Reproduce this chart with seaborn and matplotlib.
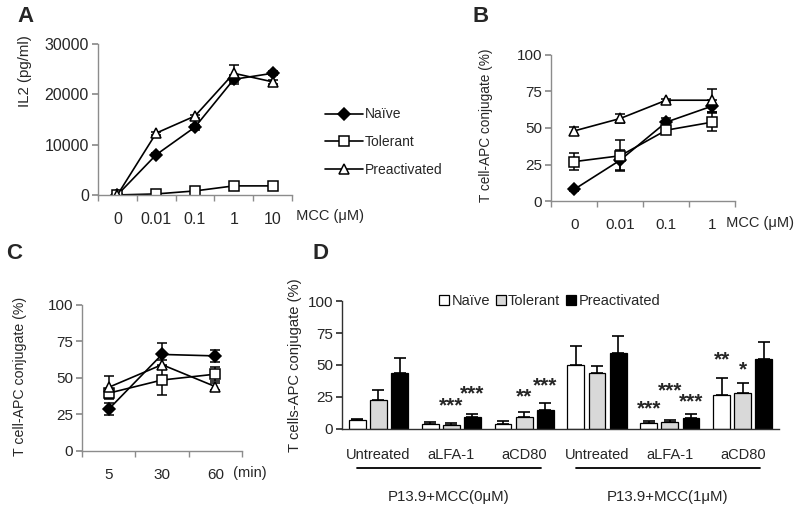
import numpy as np
import pandas as pd
import seaborn as sns
import matplotlib
matplotlib.use('Agg')
import matplotlib.pyplot as plt
import matplotlib.transforms as mtransforms
from matplotlib.patches import Patch

# ---- data ----
groups = ['Naïve', 'Tolerant', 'Preactivated']

# A: IL2 vs MCC dose
a_doses = ['0', '0.01', '0.1', '1', '10']
a_naive = [0, 8000, 13500, 23000, 24200]
a_naive_err = [0, 300, 500, 900, 400]
a_tol = [0, 200, 800, 1800, 1800]
a_tol_err = [0, 0, 0, 0, 0]
a_pre = [0, 12300, 15700, 24200, 22500]
a_pre_err = [0, 300, 300, 1700, 400]

# B: conjugates vs MCC dose
b_doses = ['0', '0.01', '0.1', '1']
b_naive = [8, 28, 54, 65]
b_naive_err = [1, 7, 3, 4]
b_tol = [27, 31, 48.5, 54]
b_tol_err = [6, 10.5, 2, 6]
b_pre = [48, 56.5, 69, 69]
b_pre_err = [3, 3, 1, 8]

# C: conjugates vs time
c_times = ['5', '30', '60']
c_naive = [28.5, 66, 65]
c_naive_err = [4, 8, 4]
c_tol = [39.5, 48.5, 52.5]
c_tol_err = [3, 10.5, 5]
c_pre = [43.5, 59, 44]
c_pre_err = [8, 3, 2.5]

# D: conjugates with blocking antibodies
d_treat = ['Untreated', 'aLFA-1', 'aCD80', 'Untreated', 'aLFA-1', 'aCD80']
d_dose_labels = ['P13.9+MCC(0μM)', 'P13.9+MCC(1μM)']
d_naive = [6.8, 4.2, 4.2, 50, 4.7, 26.6]
d_naive_err = [0.6, 1, 1.8, 15, 1.8, 13]
d_tol = [22.7, 3.4, 9.4, 44, 5.2, 28.4]
d_tol_err = [7.5, 1.5, 4, 5.5, 2, 7.5]
d_pre = [44, 8.9, 14.6, 59.4, 8.3, 55]
d_pre_err = [11.5, 3, 6, 13, 3.4, 13]
# significance stars: (group index, bar index, text, y)
d_stars = [(1, 1, '***', 17.7), (1, 2, '***', 27.6), (2, 1, '**', 25), (2, 2, '***', 34),
           (4, 0, '***', 16), (4, 1, '***', 29.7), (4, 2, '***', 21.4),
           (5, 0, '**', 54), (5, 1, '*', 46.4)]

sns.set_theme(style='ticks')
plt.rcParams['font.family'] = ['Liberation Sans', 'DejaVu Sans']
plt.rcParams['font.size'] = 10

axis_gray = '#8c8c8c'
fig = plt.figure(figsize=(8, 5.13), dpi=100)


def style_axes(ax, ncat, color=axis_gray, tsize=11):
    sns.despine(ax=ax)
    for s in ['left', 'bottom']:
        ax.spines[s].set_color(color)
        ax.spines[s].set_linewidth(1)
    ax.set_xticks(np.arange(ncat + 1) - 0.5, minor=True)
    ax.tick_params(axis='x', which='major', length=0, pad=12, labelsize=tsize)
    ax.tick_params(axis='x', which='minor', length=4, color=color, direction='out')
    ax.tick_params(axis='y', which='major', length=4, color=color, direction='out',
                   labelsize=tsize, pad=2.5)
    ax.set_xlim(-0.5, ncat - 0.5)
    ax.set_xlabel('')


def line_panel(ax, cats, series, errs, ylim, yticks, ylabel, lsize, tsize, lpos):
    rows = []
    for g, vals in zip(groups, series):
        for c, v in zip(cats, vals):
            rows.append({'cat': c, 'val': v, 'group': g})
    df = pd.DataFrame(rows)
    sns.pointplot(data=df, x='cat', y='val', hue='group', hue_order=groups, order=cats,
                  palette=['black'] * 3, markers=['D', 's', '^'], linestyles='-',
                  errorbar=None, legend=False, ax=ax,
                  markersize=7.5, linewidth=1.2, markeredgewidth=1.1)
    lines = list(ax.lines[:3])
    lines[0].set_markersize(6.5)
    for ln in lines[1:]:
        ln.set_markerfacecolor('white')
    x = np.arange(len(cats))
    for ln, vals, e in zip(lines, series, errs):
        ax.errorbar(x, vals, yerr=e, fmt='none', ecolor='black', elinewidth=1.1,
                    capsize=3.5, capthick=1.1, zorder=ln.get_zorder() - 0.1)
    ax.set_ylim(*ylim)
    ax.set_yticks(yticks)
    ax.set_ylabel(ylabel, fontsize=lsize)
    ax.yaxis.set_label_coords(*lpos)
    style_axes(ax, len(cats), tsize=tsize)
    return lines


# ---- A ----
axA = fig.add_axes([0.1225, 0.620, 0.2425, 0.294])
linesA = line_panel(axA, a_doses, [a_naive, a_tol, a_pre], [a_naive_err, a_tol_err, a_pre_err],
                    (0, 30000), [0, 10000, 20000, 30000], 'IL2 (pg/ml)', 10.8, 11.5, (-0.34, 0.82))
axA.text(1.0, -0.09, ' MCC (μM)', transform=axA.transAxes, ha='left', va='top', fontsize=10.5)
fig.legend(handles=linesA, labels=groups, loc='upper left', bbox_to_anchor=(0.39, 0.815),
           frameon=False, handlelength=2.8, handletextpad=0.1, labelspacing=1.0, fontsize=10)

# ---- B ----
axB = fig.add_axes([0.689, 0.608, 0.23, 0.285])
line_panel(axB, b_doses, [b_naive, b_tol, b_pre], [b_naive_err, b_tol_err, b_pre_err],
           (0, 100), [0, 25, 50, 75, 100], 'T cell-APC conjugate (%)', 9.8, 11, (-0.315, 0.52))
axB.text(0.93, -0.1, ' MCC (μM)', transform=axB.transAxes, ha='left', va='top', fontsize=10.5)

# ---- C ----
axC = fig.add_axes([0.1025, 0.121, 0.2, 0.285])
line_panel(axC, c_times, [c_naive, c_tol, c_pre], [c_naive_err, c_tol_err, c_pre_err],
           (0, 100), [0, 25, 50, 75, 100], 'T cell-APC conjugate (%)', 10.2, 11, (-0.344, 0.507))
axC.text(0.92, -0.1, ' (min)', transform=axC.transAxes, ha='left', va='top', fontsize=10.5)

# ---- D ----
axD = fig.add_axes([0.4275, 0.164, 0.5465, 0.249])
rows = []
for g, vals in zip(groups, [d_naive, d_tol, d_pre]):
    for i, v in enumerate(vals):
        rows.append({'cond': i, 'val': v, 'group': g})
dfD = pd.DataFrame(rows)
bar_colors = ['white', '#d9d9d9', 'black']
sns.barplot(data=dfD, x='cond', y='val', hue='group', hue_order=groups, palette=bar_colors,
            errorbar=None, width=0.87, gap=0.2, edgecolor='black', linewidth=0.9,
            legend=False, ax=axD)
bars = axD.patches
nC = len(d_treat)
bar_x = {}
for k, (vals, e) in enumerate(zip([d_naive, d_tol, d_pre], [d_naive_err, d_tol_err, d_pre_err])):
    ps = bars[k * nC:(k + 1) * nC]
    xs = [p.get_x() + p.get_width() / 2 for p in ps]
    for i, xx in enumerate(xs):
        bar_x[(i, k)] = xx
    axD.errorbar(xs, vals, yerr=[np.zeros(nC), e], fmt='none', ecolor='black',
                 elinewidth=1.2, capsize=4, capthick=1.2, zorder=1)
for gi, bi, txt, yv in d_stars:
    axD.text(bar_x[(gi, bi)], yv, txt, ha='center', va='center', fontsize=15, fontweight='bold')
axD.set_ylim(0, 100)
axD.set_yticks([0, 25, 50, 75, 100])
axD.set_ylabel('T cells-APC conjugate (%)', fontsize=10.6)
style_axes(axD, nC, color='#303030', tsize=11)
axD.tick_params(axis='x', which='minor', length=0)
axD.tick_params(axis='x', which='major', pad=14, labelsize=10.5)
axD.set_xticks(range(nC))
axD.set_xticklabels(d_treat)
trans = mtransforms.blended_transform_factory(axD.transData, axD.transAxes)
for j, lab in enumerate(d_dose_labels):
    x0, x1 = 3 * j - 0.29, 3 * j + 2.23
    axD.plot([x0, x1], [-0.31, -0.31], color='black', lw=1.3, transform=trans, clip_on=False)
    axD.text((x0 + x1) / 2, -0.53, lab, transform=trans, ha='center', va='center', fontsize=10.8)
handlesD = [Patch(facecolor=c, edgecolor='black', linewidth=0.9) for c in bar_colors]
axD.legend(handles=handlesD, labels=groups, loc='upper center', bbox_to_anchor=(0.475, 1.16),
           ncol=3, frameon=False, handlelength=0.7, handleheight=0.7, handletextpad=0.15,
           columnspacing=0.4, fontsize=10.5)

# panel letters
for lab, (x, y) in zip('ABCD', [(0.022, 0.968), (0.59, 0.968), (0.008, 0.505), (0.39, 0.505)]):
    fig.text(x, y, lab, fontsize=16, fontweight='bold', ha='left', va='center')

fig.savefig('out.png', dpi=100)
